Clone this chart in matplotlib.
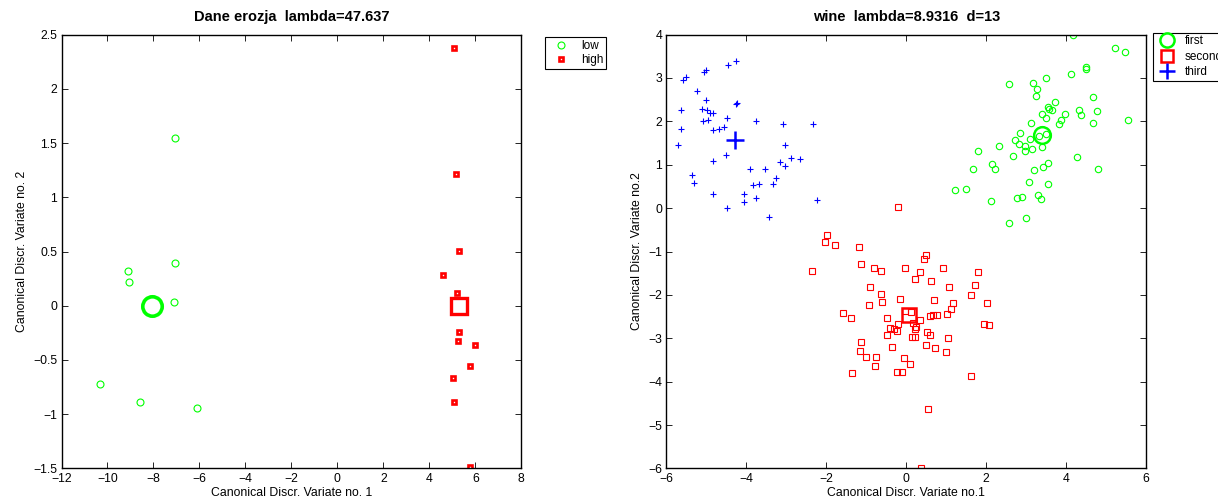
import numpy as np
import matplotlib.pyplot as plt

plt.rcParams['font.family'] = ['Liberation Sans', 'DejaVu Sans']
plt.rcParams['font.size'] = 8.8

# ---- Dane erozja ----
low_x = [-7.08, -7.08, -9.11, -9.06, -7.10, -10.31, -8.59, -6.12]
low_y = [1.55, 0.395, 0.318, 0.219, 0.037, -0.72, -0.886, -0.945]
high_x = [5.08, 5.16, 5.29, 4.58, 5.19, 5.29, 5.24, 5.98, 5.79, 5.01, 5.06, 5.78]
high_y = [2.377, 1.216, 0.505, 0.283, 0.12, -0.243, -0.323, -0.363, -0.554, -0.67, -0.892, -1.487]

# ---- wine ----
first_x = [4.17, 5.21, 5.47, 4.49, 4.49, 4.12, 3.49, 2.56, 3.16, 3.27, 3.25, 4.67, 3.71, 3.54, 3.58,
           3.64, 4.33, 4.77, 3.40, 3.96, 4.36, 3.50, 3.87, 5.55, 3.11, 3.83, 4.67, 2.85, 3.33, 3.50,
           2.73, 3.09, 2.83, 2.98, 3.40, 2.32, 3.15, 2.97, 1.79, 2.66, 4.27, 2.15, 2.22, 1.68, 3.54,
           3.43, 3.20, 4.80, 3.07, 3.55, 1.22, 1.49, 2.13, 2.77, 2.90, 3.29, 3.36, 2.56, 3.00]
first_y = [3.99, 3.69, 3.59, 3.26, 3.20, 3.09, 3.00, 2.86, 2.88, 2.75, 2.59, 2.55, 2.45, 2.33, 2.28,
           2.25, 2.26, 2.23, 2.17, 2.17, 2.15, 2.07, 2.04, 2.04, 1.97, 1.94, 1.97, 1.72, 1.67, 1.71,
           1.57, 1.59, 1.47, 1.43, 1.42, 1.43, 1.37, 1.32, 1.32, 1.21, 1.17, 1.01, 0.91, 0.91, 1.04,
           0.94, 0.88, 0.91, 0.61, 0.56, 0.42, 0.45, 0.17, 0.24, 0.25, 0.31, 0.20, -0.35, -0.23]
second_x = [-0.21, -1.99, -2.03, -1.79, -1.18, 0.49, 0.45, -1.13, -2.37, -0.81, -0.64, -0.03, 0.34,
            0.92, 1.79, 0.22, 0.62, -0.91, 1.07, 1.73, -0.63, 1.61, -0.16, 0.69, -0.60, -0.93, 1.17,
            2.02, 1.12, -0.03, -1.58, 1.02, 0.59, 0.68, 0.77, -1.39, -0.49, 0.34, 0.17, -0.20, 1.94,
            2.06, 0.24, -0.41, -0.31, 0.21, -0.23, 0.51, -0.49, 0.59, 0.14, 0.21, 1.04, -1.14, 0.49,
            -0.36, 0.71, -1.17, 0.99, -1.00, -0.77, -0.06, 0.09, -0.79, -1.37, -0.23, -0.12, 1.62,
            0.55, 0.37, 0.12]
second_y = [0.02, -0.62, -0.78, -0.85, -0.89, -1.08, -1.18, -1.28, -1.44, -1.38, -1.44, -1.38, -1.48,
            -1.38, -1.48, -1.64, -1.68, -1.81, -1.82, -1.77, -1.98, -2.00, -2.10, -2.11, -2.17, -2.24,
            -2.19, -2.18, -2.32, -2.36, -2.41, -2.44, -2.48, -2.46, -2.47, -2.53, -2.53, -2.58, -2.64,
            -2.67, -2.68, -2.70, -2.74, -2.76, -2.78, -2.78, -2.83, -2.86, -2.93, -2.93, -2.98, -2.98,
            -2.99, -3.08, -3.16, -3.21, -3.23, -3.30, -3.32, -3.43, -3.43, -3.46, -3.60, -3.64, -3.80,
            -3.78, -3.78, -3.86, -4.63, -5.98, -2.40]
third_x = [-4.26, -4.46, -5.50, -5.58, -5.02, -5.05, -5.24, -5.01, -5.63, -5.11, -4.99, -4.92, -4.83,
           -5.08, -4.95, -4.26, -4.24, -4.48, -5.63, -4.83, -4.69, -4.57, -5.71, -3.76, -3.08, -2.33,
           -3.03, -4.52, -4.83, -2.88, -2.66, -3.17, -3.03, -3.90, -3.53, -5.35, -5.30, -3.27, -3.84,
           -3.69, -3.34, -4.83, -4.05, -4.05, -3.75, -2.24, -4.49, -3.43]
third_y = [3.38, 3.29, 3.03, 2.96, 3.19, 3.14, 2.70, 2.50, 2.26, 2.28, 2.27, 2.19, 2.20, 2.00, 2.03,
           2.39, 2.42, 2.07, 1.82, 1.80, 1.82, 1.87, 1.46, 2.00, 1.93, 1.94, 1.45, 1.22, 1.09, 1.16,
           1.14, 1.06, 0.98, 0.90, 0.91, 0.76, 0.58, 0.70, 0.54, 0.56, 0.55, 0.32, 0.32, 0.15, 0.23,
           0.19, 0.00, -0.21]

# class centres as shown in the plot
wine_centres = {'first': (3.40, 1.68), 'second': (0.07, -2.46), 'third': (-4.29, 1.57)}

GREEN = (0, 1, 0)
RED = (1, 0, 0)
BLUE = (0, 0, 1)

fig = plt.figure(figsize=(12.18, 5.01), dpi=100)
ax1 = fig.add_axes([0.0505, 0.065, 0.3775, 0.866])
ax2 = fig.add_axes([0.5472, 0.065, 0.3938, 0.866])

# left panel
ax1.plot(low_x, low_y, 'o', ms=5, mfc='none', mec=GREEN, mew=0.8, label='low')
ax1.plot(high_x, high_y, 's', ms=3.2, mfc='white', mec=RED, mew=1.9, label='high')
ax1.plot(np.mean(low_x), np.mean(low_y), 'o', ms=14, mfc='none', mec=GREEN, mew=2.6)
ax1.plot(np.mean(high_x), np.mean(high_y), 's', ms=11, mfc='none', mec=RED, mew=2.4)
ax1.set_xlim(-12, 8)
ax1.set_ylim(-1.5, 2.5)
ax1.set_xticks(np.arange(-12, 9, 2))
ax1.set_xticklabels(['\u221212', '\u221210', '\u22128', '\u22126', '\u22124', '\u22122',
                     '0', '2', '4', '6', '8'])
ax1.set_yticks(np.arange(-1.5, 2.51, 0.5))
ax1.set_yticklabels(['\u22121.5', '\u22121', '\u22120.5', '0', '0.5', '1', '1.5', '2', '2.5'])
ax1.set_xlabel('Canonical Discr. Variate no. 1', labelpad=2)
ax1.set_ylabel('Canonical Discr. Variate no. 2', labelpad=4)
ax1.set_title('Dane erozja  lambda=47.637', fontweight='bold', fontsize=10.5, pad=10)
leg1 = ax1.legend(loc='upper left', bbox_to_anchor=(545 / 1218, 1 - 37 / 501),
                  bbox_transform=fig.transFigure, borderaxespad=0, fancybox=False,
                  edgecolor='black', framealpha=1, fontsize=8.5, handlelength=2.2,
                  borderpad=0.25, labelspacing=0.2, handletextpad=0.6)
leg1.get_frame().set_linewidth(0.8)

# right panel
ax2.plot(first_x, first_y, 'o', ms=4.6, mfc='none', mec=GREEN, mew=0.8)
ax2.plot(second_x, second_y, 's', ms=4.2, mfc='none', mec=RED, mew=0.8)
ax2.plot(third_x, third_y, '+', ms=4.6, mec=BLUE, mew=0.8)
cx, cy = wine_centres['first']
ax2.plot(cx, cy, 'o', ms=12, mfc='none', mec=GREEN, mew=1.8, label='first')
cx, cy = wine_centres['second']
ax2.plot(cx, cy, 's', ms=10, mfc='none', mec=RED, mew=1.8, label='second')
cx, cy = wine_centres['third']
ax2.plot(cx, cy, '+', ms=13, mec=BLUE, mew=1.8, label='third')
ax2.set_xlim(-6, 6)
ax2.set_ylim(-6, 4)
ax2.set_xticks(np.arange(-6, 7, 2))
ax2.set_yticks(np.arange(-6, 5, 1))
ax2.set_xticklabels(['\u22126', '\u22124', '\u22122', '0', '2', '4', '6'])
ax2.set_yticklabels(['\u22126', '\u22125', '\u22124', '\u22123', '\u22122', '\u22121',
                     '0', '1', '2', '3', '4'])
ax2.set_xlabel('Canonical Discr. Variate no.1', labelpad=2)
ax2.set_ylabel('Canonical Discr. Variate no.2', labelpad=4)
ax2.set_title('wine  lambda=8.9316  d=13', fontweight='bold', fontsize=10.5, pad=10)
leg2 = ax2.legend(loc='upper left', bbox_to_anchor=(1153 / 1218, 1 - 33 / 501),
                  bbox_transform=fig.transFigure, borderaxespad=0, fancybox=False,
                  edgecolor='black', framealpha=1, fontsize=8.5, handlelength=2.0,
                  borderpad=0.2, labelspacing=0.3, handletextpad=0.5, markerscale=0.85)
leg2.get_frame().set_linewidth(0.8)

for ax in (ax1, ax2):
    ax.tick_params(direction='in', top=True, right=True, length=4, width=0.6,
                   labelsize=8.8, pad=3)
    for s in ax.spines.values():
        s.set_linewidth(1.0)

fig.savefig('out.png', dpi=100)
